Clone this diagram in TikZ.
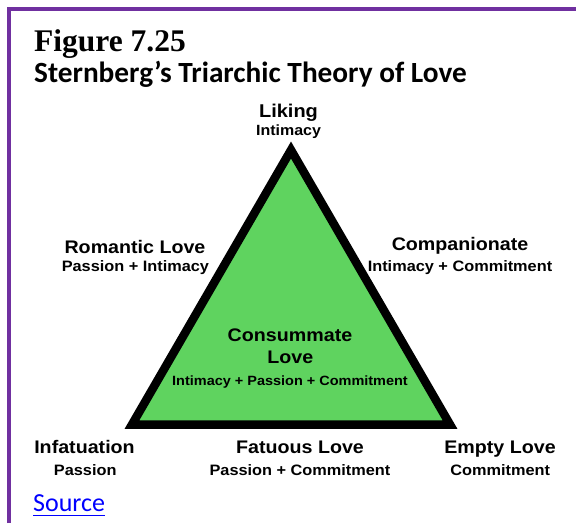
\documentclass[tikz,border=0pt]{standalone}
\usepackage{fontspec}
\setmainfont{Liberation Serif}
\newfontfamily\labfont[FakeStretch=1.08]{Liberation Sans}
\newfontfamily\calfont{Carlito}
\definecolor{frame}{RGB}{112,48,160}
\definecolor{lovegreen}{RGB}{95,211,95}
\definecolor{linkblue}{RGB}{0,0,255}
\tikzset{
  txt/.style={inner sep=0pt, anchor=base},
  big/.style={txt, font=\labfont\bfseries\fontsize{18.2}{21}\selectfont},
  small/.style={txt, font=\labfont\bfseries\fontsize{15.1}{17}\selectfont},
}
\begin{document}
\begin{tikzpicture}[x=1pt,y=-1pt]
\useasboundingbox (0,0) rectangle (576,523);
\fill[white] (0,0) rectangle (576,523);
% frame
\draw[frame, line width=3.5pt] (9.2,523) -- (9.2,9.2) -- (576,9.2);
% titles
\node[txt, anchor=base west, font=\bfseries\fontsize{31.5}{36}\selectfont] (fig) at (34,51) {Figure 7.25};
\node[txt, anchor=base west, font=\calfont\bfseries\fontsize{29.3}{33}\selectfont] (ttl) at (34,82) {Sternberg’s Triarchic Theory of Love};
% triangle
\coordinate (A) at (291,150);
\coordinate (B) at (132,424.5);
\coordinate (C) at (450,424.5);
\draw[line width=8.5pt, fill=lovegreen, line join=miter] (A) -- (B) -- (C) -- cycle;
% labels
\node[txt, font=\labfont\bfseries\fontsize{18.5}{21}\selectfont] (liking) at (288.5,117) {Liking};
\node[txt, font=\labfont\bfseries\fontsize{14.8}{17}\selectfont] (likingsub) at (288.5,135) {Intimacy};
\node[big] (rom) at (135,253.3) {Romantic Love};
\node[small] (romsub) at (135.4,271.7) {Passion + Intimacy};
\node[big] (comp) at (460,250) {Companionate};
\node[small] (compsub) at (460,271.7) {Intimacy + Commitment};
\node[big] (cons) at (290,341) {Consummate};
\node[big] (cons2) at (290.3,363.3) {Love};
\node[txt, font=\labfont\bfseries\fontsize{13.4}{15}\selectfont] (conssub) at (290,385) {Intimacy + Passion + Commitment};
\node[big] (inf) at (84.5,453.3) {Infatuation};
\node[small] (infsub) at (85.2,475) {Passion};
\node[big] (fat) at (300,453.3) {Fatuous Love};
\node[small] (fatsub) at (300,475) {Passion + Commitment};
\node[big] (emp) at (500,453.3) {Empty Love};
\node[small] (empsub) at (500.3,475) {Commitment};
% source
\node[txt, anchor=base west, text=linkblue, font=\calfont\fontsize{26}{30}\selectfont] (src) at (33,511.7) {Source};
\draw[linkblue, line width=1.5pt] ([yshift=-4pt]src.base west) -- ([yshift=-4pt]src.base east);
\end{tikzpicture}
\end{document}
